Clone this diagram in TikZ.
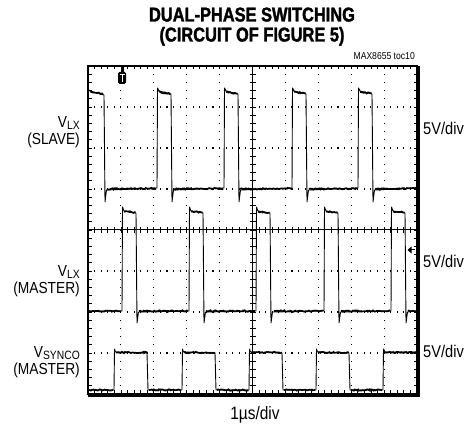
\documentclass[tikz,border=0pt]{standalone}
\usepackage{fontspec}
\setmainfont{Liberation Sans}
\newfontfamily\titlefont[FakeStretch=0.82,FakeBold=1.6]{Liberation Sans}
\newfontfamily\lblfont[FakeStretch=0.86]{Liberation Sans}
\usetikzlibrary{decorations.pathmorphing}
\begin{document}
\begin{tikzpicture}[x=1pt,y=-1pt,
  trace/.style={line width=0.9pt,line join=round},
  flat/.style={line width=1.7pt,decorate,decoration={random steps,segment length=1.3pt,amplitude=0.7pt}},
  gdot/.style={fill=black},
  titletxt/.style={inner sep=0pt,font=\titlefont\bfseries\fontsize{20}{20}\selectfont},
  leftlbl/.style={inner sep=0pt,anchor=base east,font=\lblfont\fontsize{16}{16}\selectfont},
  rightlbl/.style={inner sep=0pt,anchor=base west,font=\lblfont\fontsize{17}{17}\selectfont},
  smalltxt/.style={inner sep=0pt,anchor=base east,font=\lblfont\fontsize{10}{10}\selectfont}]
\useasboundingbox (0,0) rectangle (467,430);
\newcommand{\sub}[1]{\raisebox{-2pt}{\fontsize{12}{12}\selectfont #1}}
% dotted grid
\foreach \i in {1,2,3,4,6,7,8,9}
  \foreach \k in {1,...,39}
    \fill[gdot] ({88+\i*32.9-0.55},{66+\k*8.2-0.55}) rectangle ++(1.1,1.1);
\foreach \j in {1,2,3,5,6,7}
  \foreach \k in {1,...,49}
    \fill[gdot] ({88+\k*6.58-0.55},{66+\j*41-0.55}) rectangle ++(1.1,1.1);
% center axes
\draw[line width=1pt] (252.5,66) -- (252.5,394);
\draw[line width=1pt] (88,230) -- (417,230);
\foreach \k in {1,...,49} {
  \draw[line width=0.8pt] ({88+\k*6.58},227) -- ({88+\k*6.58},233);
  \draw[line width=0.8pt] ({88+\k*6.58},66) -- ({88+\k*6.58},69.5);
  \draw[line width=0.8pt] ({88+\k*6.58},394) -- ({88+\k*6.58},390.5);
}
\foreach \k in {1,...,39} {
  \draw[line width=0.8pt] (249.5,{66+\k*8.2}) -- (255.5,{66+\k*8.2});
  \draw[line width=0.8pt] (88,{66+\k*8.2}) -- (91.5,{66+\k*8.2});
  \draw[line width=0.8pt] (417,{66+\k*8.2}) -- (413.5,{66+\k*8.2});
}
% border
\draw[line width=2.5pt] (88,66) rectangle (417,394);
\draw[line width=2pt] (419,66) -- (419,396) -- (88,396);
% slave trace
\draw[trace] (89,90) -- (90,91) -- (104,95) -- (105,202) -- (106.5,190)
  foreach \r in {157,224,292,358} {
    -- (\r,188) -- ({\r+0.5},88) -- ({\r+2},91) -- ({\r+14},94) -- ({\r+15},202) -- ({\r+16.5},190)
  } -- (416,188);
\draw[flat] (90,91.5) -- (103,94);
\foreach \r in {157,224,292,358} \draw[flat] ({\r+2},92) -- ({\r+13.5},93.5);
\foreach \a/\b in {107/156,174/223,240/291,309/357,375/416} \draw[flat] (\a,189) -- (\b,188.5);
% master trace
\draw[trace] (89,311)
  foreach \r in {122,189,256,324,391} {
    -- (\r,311) -- ({\r+0.5},207) -- ({\r+2},211) -- ({\r+14},213) -- ({\r+15},323) -- ({\r+16.5},312)
  } -- (416,311);
\foreach \r in {122,189,256,324,391} \draw[flat] ({\r+2},211.5) -- ({\r+13.5},212.5);
\foreach \a/\b in {89/121,139/188,206/255,274/323,341/390,408/416} \draw[flat] (\a,311) -- (\b,311);
% sync trace
\draw[trace] (89,390)
  foreach \r in {114,182,249,316} {
    -- (\r,390) -- ({\r+0.5},349) -- ({\r+1.5},352) -- ({\r+33},353) -- ({\r+34},390)
  } -- (383,390) -- (383.5,349) -- (385,352) -- (416,352);
\foreach \r in {114,182,249,316,383} \draw[flat] ({\r+2},352.5) -- ({min(\r+33,416)},352.5);
\foreach \a/\b in {89/113,149/181,217/248,284/315,351/382} \draw[flat] (\a,390) -- (\b,390);
% trigger marker
\fill (120.5,67) rectangle (123.5,72);
\fill[rounded corners=1.5pt] (118,72) rectangle (126,84);
\draw[white,line width=1pt] (119.5,74.5) -- (124.5,74.5) (122,74.5) -- (122,82);
% ground marker
\fill (407.5,250) -- (411.5,246.5) -- (411.5,253.5) -- cycle;
\draw[line width=1pt] (411,250) -- (415,250);
% texts
\node[titletxt,anchor=base] (t1) at (252,21.5) {DUAL-PHASE SWITCHING};
\node[titletxt,anchor=base] (t2) at (252,41.5) {(CIRCUIT OF FIGURE 5)};
\node[smalltxt] (toc) at (415,60) {MAX8655 toc10};
\node[leftlbl] (s1) at (80,128) {V\sub{LX}};
\node[leftlbl] (s2) at (80,145) {(SLAVE)};
\node[leftlbl] (m1) at (80,277) {V\sub{LX}};
\node[leftlbl] (m2) at (80,294) {(MASTER)};
\node[leftlbl] (y1) at (80,358) {V\sub{SYNCO}};
\node[leftlbl] (y2) at (80,375) {(MASTER)};
\node[rightlbl] (r1) at (423,135) {5V/div};
\node[rightlbl] (r2) at (423,268) {5V/div};
\node[rightlbl] (r3) at (423,358) {5V/div};
\node[rightlbl,anchor=base,font=\lblfont\fontsize{18}{18}\selectfont] (bt) at (255,420) {1µs/div};
\end{tikzpicture}
\end{document}
